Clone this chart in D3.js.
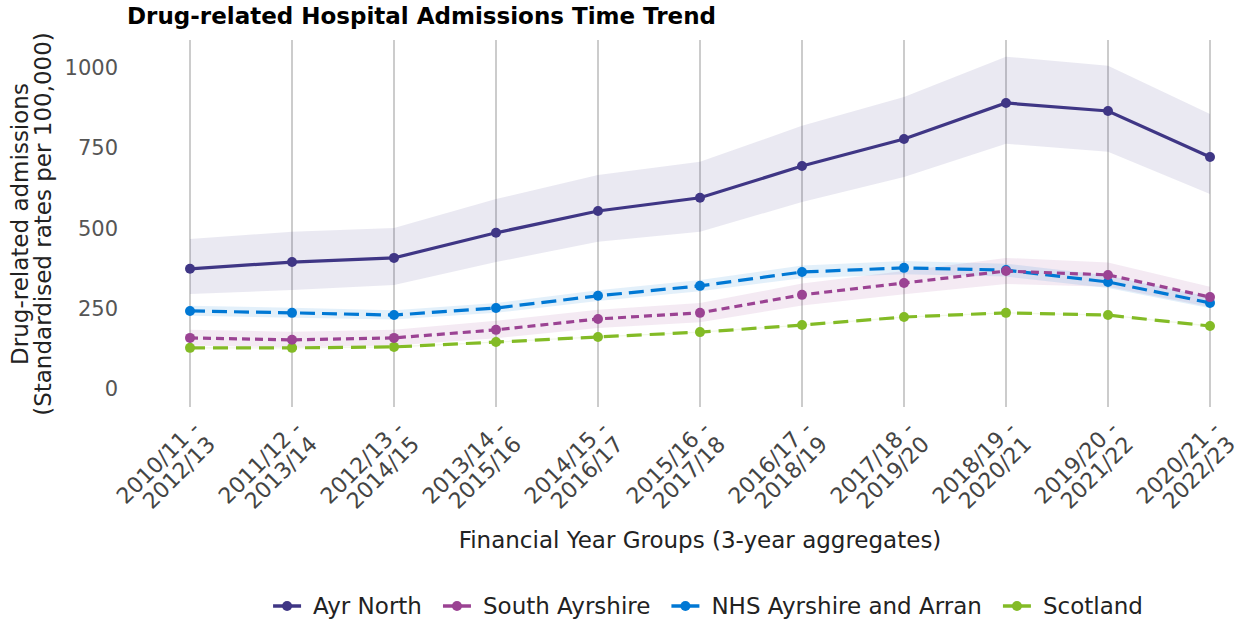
<!DOCTYPE html>
<html>
<head>
<meta charset="utf-8">
<script src="https://cdn.jsdelivr.net/npm/d3@7"></script>
<style>
  body { margin: 0; background: #fff; }
  svg { font-family: "DejaVu Sans", sans-serif; }
</style>
</head>
<body>
<svg id="chart" width="1245" height="622"></svg>
<script>
const WIDTH = 1245;
const HEIGHT = 622;

// financial year groups (3-year aggregates)
const periods = [
	["2010/11 -", "2012/13"], ["2011/12 -", "2013/14"], ["2012/13 -", "2014/15"],
	["2013/14 -", "2015/16"], ["2014/15 -", "2016/17"], ["2015/16 -", "2017/18"],
	["2016/17 -", "2018/19"], ["2017/18 -", "2019/20"], ["2018/19 -", "2020/21"],
	["2019/20 -", "2021/22"], ["2020/21 -", "2022/23"]
];

const seriesNames = ["Ayr North", "South Ayrshire", "NHS Ayrshire and Arran", "Scotland"];

// rates per 100,000 with lower/upper confidence limits
const ayrNorth = [374, 395, 408, 486, 554, 595, 694, 778, 890, 865, 722];
const ayrNorthLower = [296, 308, 324, 395, 458, 489, 582, 660, 763, 738, 607];
const ayrNorthUpper = [467, 489, 501, 591, 666, 707, 819, 909, 1034, 1006, 856];

const southAyrshire = [159, 153, 159, 184, 218, 237, 293, 330, 367, 355, 286];
const southAyrshireLower = [135, 130, 135, 158, 190, 208, 260, 295, 327, 318, 255];
const southAyrshireUpper = [184, 178, 184, 212, 247, 268, 328, 367, 408, 394, 318];

const nhsAA = [243, 237, 230, 252, 290, 321, 364, 377, 370, 333, 268];
const nhsAALower = [228, 222, 216, 237, 274, 304, 345, 357, 350, 314, 251];
const nhsAAUpper = [259, 253, 245, 268, 307, 339, 384, 398, 390, 353, 286];

const scotland = [128, 128, 131, 146, 162, 177, 199, 224, 237, 230, 196];
const scotlandLower = [126, 126, 129, 144, 160, 175, 197, 222, 235, 228, 194];
const scotlandUpper = [130, 130, 133, 148, 164, 179, 201, 226, 239, 232, 198];

const yTicks = [0, 250, 500, 750, 1000];

const styles = [
	{ color: "#3f3685", dash: null },
	{ color: "#9b4393", dash: "8,5" },
	{ color: "#0078d4", dash: "15,7" },
	{ color: "#83bb26", dash: "15,8" }
];

const series = [
	{ name: seriesNames[0], values: ayrNorth, lower: ayrNorthLower, upper: ayrNorthUpper },
	{ name: seriesNames[1], values: southAyrshire, lower: southAyrshireLower, upper: southAyrshireUpper },
	{ name: seriesNames[2], values: nhsAA, lower: nhsAALower, upper: nhsAAUpper },
	{ name: seriesNames[3], values: scotland, lower: scotlandLower, upper: scotlandUpper }
].map((s, i) => Object.assign(s, styles[i]));

const margin = { top: 40, right: 35, bottom: 215, left: 190 };
const plotTop = margin.top;
const plotBottom = HEIGHT - margin.bottom;

const svg = d3.select("#chart");

const x = d3.scalePoint()
	.domain(periods.map(p => p.join(" ")))
	.range([margin.left, WIDTH - margin.right]);

const y = d3.scaleLinear()
	.domain([-56, 1086])
	.range([plotBottom, plotTop]);

// vertical grid lines
svg.append("g")
	.selectAll("line")
	.data(x.domain())
	.join("line")
	.attr("x1", d => x(d)).attr("x2", d => x(d))
	.attr("y1", plotTop).attr("y2", plotBottom)
	.attr("stroke", "#cccccc")
	.attr("stroke-width", 2);

// y axis labels
const yAxis = svg.append("g")
	.attr("transform", `translate(${margin.left - 72},0)`)
	.call(d3.axisLeft(y).tickValues(yTicks).tickFormat(d3.format("d")).tickSize(0).tickPadding(0));
yAxis.select(".domain").remove();
yAxis.selectAll("text")
	.attr("font-size", 21)
	.attr("fill", "#555")
	.attr("font-family", "DejaVu Sans");

// x axis labels, rotated
const xLabels = svg.append("g")
	.selectAll("text")
	.data(periods)
	.join("text")
	.attr("transform", (d) => `translate(${x(d.join(" "))},${plotBottom + 12}) rotate(-45)`)
	.attr("text-anchor", "end")
	.attr("font-size", 22)
	.attr("fill", "#444");
xLabels.append("tspan").attr("x", 0).attr("dy", "0.71em").text(d => d[0]);
xLabels.append("tspan").attr("x", 0).attr("dy", "1.0em").text(d => d[1]);

// confidence bands
const area = d3.area()
	.x((d, i) => x(x.domain()[i]))
	.y0(d => y(d[0]))
	.y1(d => y(d[1]));

svg.append("g")
	.selectAll("path")
	.data(series)
	.join("path")
	.attr("d", s => area(s.lower.map((l, i) => [l, s.upper[i]])))
	.attr("fill", s => s.color)
	.attr("fill-opacity", 0.11);

const line = d3.line()
	.x((d, i) => x(x.domain()[i]))
	.y(d => y(d));

// draw back to front so Ayr North ends up on top
const drawOrder = [3, 2, 1, 0];
drawOrder.forEach(k => {
	const s = series[k];
	const g = svg.append("g");
	g.append("path")
		.attr("d", line(s.values))
		.attr("fill", "none")
		.attr("stroke", s.color)
		.attr("stroke-width", 3.2)
		.attr("stroke-dasharray", s.dash);
	g.selectAll("circle")
		.data(s.values)
		.join("circle")
		.attr("cx", (d, i) => x(x.domain()[i]))
		.attr("cy", d => y(d))
		.attr("r", 5)
		.attr("fill", s.color);
});

// title
svg.append("text")
	.attr("x", 127).attr("y", 24)
	.attr("font-size", 23)
	.attr("font-weight", "bold")
	.attr("fill", "#000")
	.text("Drug-related Hospital Admissions Time Trend");

// axis titles
svg.append("text")
	.attr("x", (margin.left + WIDTH - margin.right) / 2)
	.attr("y", 548)
	.attr("text-anchor", "middle")
	.attr("font-size", 23)
	.attr("fill", "#222")
	.text("Financial Year Groups (3-year aggregates)");

const yTitle = svg.append("text")
	.attr("transform", `translate(28,224) rotate(-90)`)
	.attr("text-anchor", "middle")
	.attr("font-size", 23)
	.attr("fill", "#222");
yTitle.append("tspan").attr("x", 0).attr("dy", 0).text("Drug-related admissions");
yTitle.append("tspan").attr("x", 0).attr("dy", 23).text("(Standardised rates per 100,000)");

// legend
const legend = svg.append("g").attr("transform", `translate(0,606)`);
const items = legend.selectAll("g")
	.data(series)
	.join("g");
items.append("line")
	.attr("x1", 0).attr("x2", 28)
	.attr("stroke", d => d.color)
	.attr("stroke-width", 3.5);
items.append("circle")
	.attr("cx", 14).attr("r", 5)
	.attr("fill", d => d.color);
items.append("text")
	.attr("x", 40)
	.attr("dy", "0.35em")
	.attr("font-size", 23)
	.attr("fill", "#222")
	.text(d => d.name);

let offset = 0;
const widths = [];
items.each(function () { widths.push(this.getBBox().width); });
const gap = 21;
const total = d3.sum(widths) + gap * (widths.length - 1);
let start = 708 - total / 2;
items.attr("transform", (d, i) => {
	const tx = start + offset;
	offset += widths[i] + gap;
	return `translate(${tx},0)`;
});
</script>
</body>
</html>
